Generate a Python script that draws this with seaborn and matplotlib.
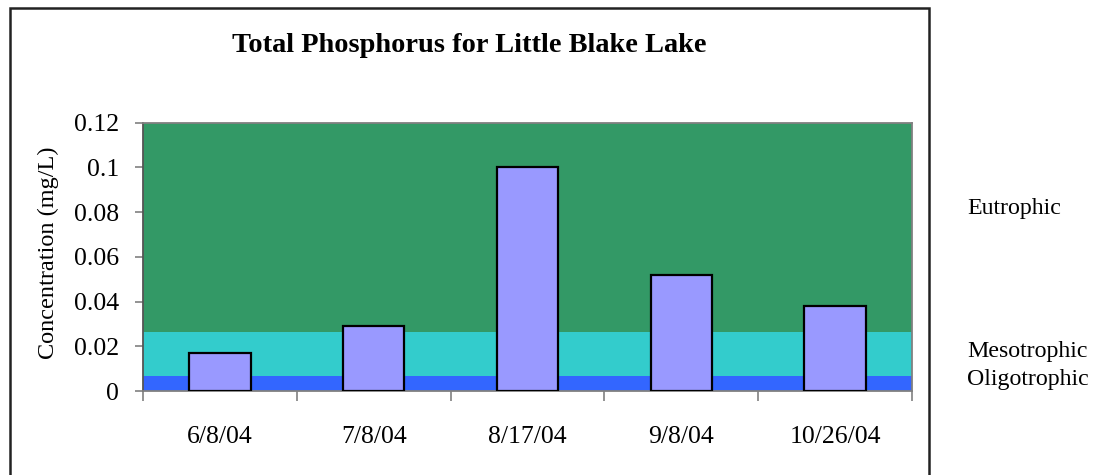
import matplotlib
matplotlib.use("Agg")
import matplotlib.pyplot as plt
from matplotlib.patches import Rectangle
from matplotlib.transforms import Bbox, TransformedBbox
import seaborn as sns

# Sampling dates and total phosphorus concentrations (mg/L)
dates = ["6/8/04", "7/8/04", "8/17/04", "9/8/04", "10/26/04"]
phosphorus = [0.017, 0.029, 0.100, 0.052, 0.038]

# Trophic state bands (lower, upper) in mg/L
band_names = ["Oligotrophic", "Mesotrophic", "Eutrophic"]
band_lower = [0.0, 0.0066, 0.0262]
band_upper = [0.0066, 0.0262, 0.12]
band_colors = ["#3366FF", "#33CCCC", "#339966"]

y_ticks = [0, 0.02, 0.04, 0.06, 0.08, 0.1, 0.12]
y_tick_labels = ["0", "0.02", "0.04", "0.06", "0.08", "0.1", "0.12"]

sns.set_theme(style="white")
plt.rcParams["font.family"] = ["Liberation Serif", "DejaVu Serif"]
plt.rcParams["text.color"] = "black"
plt.rcParams["xtick.color"] = "black"
plt.rcParams["ytick.color"] = "black"

fig = plt.figure(figsize=(10.93, 4.75), dpi=100)
ax = fig.add_axes([0.1308, 0.1768, 0.7036, 0.5653])

for lo, hi, c in zip(band_lower, band_upper, band_colors):
    ax.axhspan(lo, hi, color=c, zorder=0, lw=0)

sns.barplot(x=dates, y=phosphorus, color="#9999FF", saturation=1,
            edgecolor="black", linewidth=1.6, width=0.4, ax=ax, zorder=3)

ax.set_xlim(-0.5, len(dates) - 0.5)
ax.set_ylim(0, 0.12)
ax.set_yticks(y_ticks)
ax.set_yticklabels(y_tick_labels, fontsize=18.5)
ax.set_xlabel("")
ax.set_ylabel("")

# Category boundaries carry the x tick marks; labels sit at the centres
ax.set_xticks([i - 0.5 for i in range(len(dates) + 1)], minor=True)
ax.tick_params(axis="x", which="major", length=0, pad=25, labelsize=18.5,
               labelcolor="black")
ax.tick_params(axis="x", which="minor", length=7, width=1.2,
               color="#808080", direction="out", bottom=True)
ax.tick_params(axis="y", which="major", length=6, width=1.2,
               color="#808080", labelcolor="black", direction="out",
               left=True, pad=11)

for side in ["left", "bottom", "top", "right"]:
    ax.spines[side].set_color("#808080")
    ax.spines[side].set_linewidth(1.3)
    ax.spines[side].set_visible(True)
ax.spines["left"].set_color("#555555")

# Chart frame
frame = Rectangle((10 / 1093, -0.05), 919 / 1093, 1 - 8 / 475 + 0.05,
                  transform=fig.transFigure, fill=False,
                  edgecolor="#222222", linewidth=1.8)
fig.patches.append(frame)

fig.text(0.4296, 1 - 46 / 475, "Total Phosphorus for Little Blake Lake",
         ha="center", va="center", fontsize=20.4, fontweight="bold",
         color="black")

ylab = fig.text(48 / 1093, 1 - 253 / 475, "Concentration (mg/L)",
                rotation=90, ha="center", va="center", fontsize=17.5,
                color="black")
ylab.set_clip_box(TransformedBbox(Bbox([[0, 0], [1, 1 - 147 / 475]]),
                                  fig.transFigure))
ylab.set_clip_on(True)

for name, ypix in zip(["Eutrophic", "Mesotrophic", "Oligotrophic"],
                      [208, 352, 380]):
    fig.text(967 / 1093, 1 - ypix / 475, name, ha="left", va="center",
             fontsize=17.2, color="black")

fig.savefig("out.png", dpi=100, facecolor="white")
